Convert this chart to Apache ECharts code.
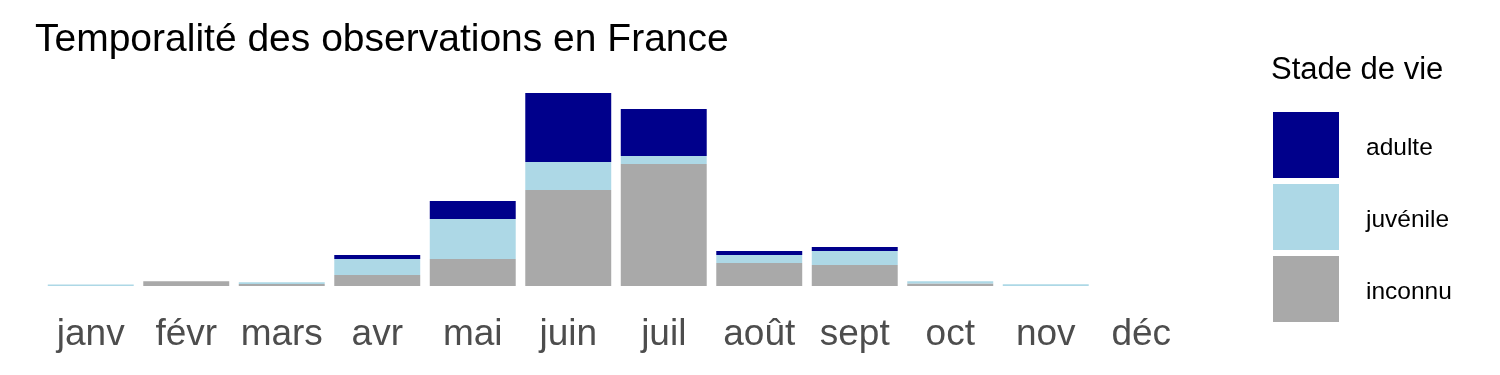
<!DOCTYPE html>
<html><head><meta charset="utf-8">
<script src="https://cdn.jsdelivr.net/npm/echarts@6/dist/echarts.min.js"></script>
<style>html,body{margin:0;padding:0;background:#fff}#c{width:1500px;height:375px}</style>
</head><body><div id="c"></div>
<script>
const months = ['janv','févr','mars','avr','mai','juin','juil','août','sept','oct','nov','déc'];
const inconnu = [0, 4.7, 2, 11, 27, 96, 122, 23, 21, 2.4, 0, 0];
const juvenile = [1.5, 0, 1.7, 16, 40, 28, 8, 8, 14, 2.3, 1.7, 0];
const adulte = [0, 0, 0, 4, 18, 69, 47, 4, 4, 0, 0, 0];
const seriesNames = ['adulte','juvénile','inconnu'];
const colors = {adulte:'#00008B', 'juvénile':'#ADD8E6', inconnu:'#A9A9A9'};
const font = 'Liberation Sans, Arial, sans-serif';

const chart = echarts.init(document.getElementById('c'), null, {renderer:'canvas'});
function mk(name, data){
  return {name, type:'bar', stack:'s', data, barCategoryGap:'10%',
    itemStyle:{color:colors[name]}, emphasis:{disabled:true}, animation:false};
}
const legendLabels = seriesNames.map((n, i) => ({
  type:'text', x:1366, y:148 + i*72,
  style:{text:n, font:'24.5px Liberation Sans, Arial, sans-serif', fill:'#000', verticalAlign:'middle'}
}));
chart.setOption({
  animation:false,
  grid:{left:43, right:1500-1189, top:93, bottom:89, containLabel:false},
  xAxis:{type:'category', data:months, axisLine:{show:false}, axisTick:{show:false},
    axisLabel:{interval:0, hideOverlap:false, fontFamily:font, fontSize:37, color:'#4D4D4D', margin:30}},
  yAxis:{type:'value', min:0, max:193, show:false, splitLine:{show:false}},
  legend:{orient:'vertical', left:1268, top:107, itemWidth:66, itemHeight:66, itemGap:6,
    icon:'rect', data:seriesNames, selectedMode:false, formatter:() => '',
    textStyle:{fontFamily:font, fontSize:1}},
  graphic:[
    {type:'text', x:35, y:40, style:{text:'Temporalité des observations en France', font:'39px Liberation Sans, Arial, sans-serif', fill:'#000', verticalAlign:'middle'}},
    {type:'text', x:1271, y:70, style:{text:'Stade de vie', font:'31px Liberation Sans, Arial, sans-serif', fill:'#000', verticalAlign:'middle'}}
  ].concat(legendLabels),
  series:[mk('inconnu', inconnu), mk('juvénile', juvenile), mk('adulte', adulte)]
});
</script></body></html>
